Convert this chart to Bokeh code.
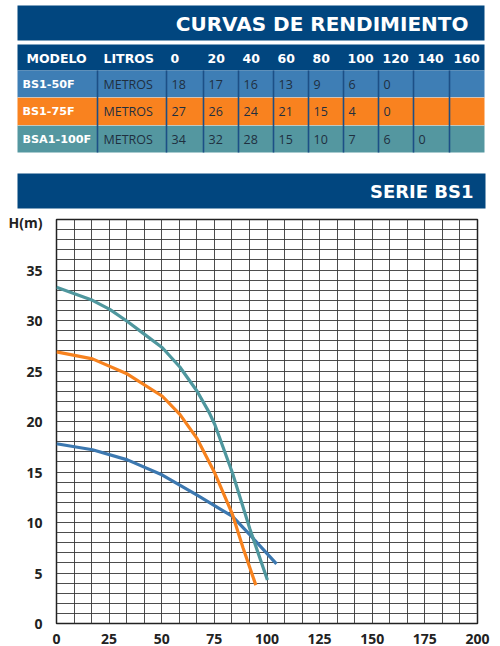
from bokeh.plotting import figure
from bokeh.layouts import column
from bokeh.models import Range1d, FixedTicker
from bokeh.core.properties import value
from bokeh.embed import file_html
from bokeh.resources import INLINE

# ---------------- data ----------------
title_text = "CURVAS DE RENDIMIENTO"
series_text = "SERIE BS1"
header_labels = ["MODELO", "LITROS", "0", "20", "40", "60", "80", "100", "120", "140", "160"]
models = ["BS1-50F", "BS1-75F", "BSA1-100F"]
unit_label = "METROS"
table_bs1_50f = ["18", "17", "16", "13", "9", "6", "0", "", ""]
table_bs1_75f = ["27", "26", "24", "21", "15", "4", "0", "", ""]
table_bsa1_100f = ["34", "32", "28", "15", "10", "7", "6", "0", ""]

# curves: caudal (x) and altura H (m)
bs1_50f_x = [0, 17.1, 33.7, 50.3, 66.8, 83.6, 91.8, 104.5]
bs1_50f_h = [17.8, 17.2, 16.2, 14.7, 12.7, 10.6, 8.8, 5.9]
bs1_75f_x = [0, 17.1, 33.7, 50.3, 58.6, 66.8, 75.2, 83.6, 88.6, 94.7]
bs1_75f_h = [26.9, 26.2, 24.7, 22.5, 20.7, 18.3, 14.9, 10.8, 7.5, 3.8]
bsa1_100f_x = [0, 17.1, 25.3, 33.7, 42.0, 50.3, 58.6, 66.8, 72.5, 75.2, 83.6, 91.8, 100.2]
bsa1_100f_h = [33.3, 32.0, 31.1, 29.9, 28.6, 27.3, 25.4, 23.0, 20.9, 19.7, 14.9, 9.4, 4.3]

x_ticks = [0, 25, 50, 75, 100, 125, 150, 175, 200]
y_ticks = [0, 5, 10, 15, 20, 25, 30, 35, 40]

# ---------------- style ----------------
NAVY = "#01467f"
ROW_COLORS = ["#3e7eb5", "#f9821f", "#5497a0"]
LINE_COLORS = ["#3c78b0", "#f7821e", "#4f979e"]
SEP = "#1d4f86"
TXT = "#1f2f3f"
FONT = "Open Sans"
HFONT = "DejaVu Sans"

W = 500
TOP_H = 212

# ---------------- table figure ----------------
t = figure(width=W, height=TOP_H, x_range=Range1d(0, W), y_range=Range1d(TOP_H, 0),
           output_backend="svg", toolbar_location=None, min_border=0)
t.axis.visible = False
t.grid.visible = False
t.outline_line_color = None
t.background_fill_color = "white"
t.border_fill_color = "white"

col_edges = [17, 97, 166, 203, 238, 273, 308, 343, 378, 413, 449, 484]
row_edges = [70, 97, 125, 152]

# title bars
t.quad(left=[17], right=[484], top=[5], bottom=[40], fill_color=NAVY, line_color=None)
t.quad(left=[17], right=[484], top=[44], bottom=[70], fill_color=NAVY, line_color=None)
t.quad(left=[17], right=[485], top=[173], bottom=[208], fill_color=NAVY, line_color=None)

t.text(x=[468], y=[23], text=[title_text], text_font=value(HFONT), text_font_style="bold",
       text_font_size="20px", text_color="white", text_align="right", text_baseline="middle")
t.text(x=[473], y=[191], text=[series_text], text_font=value(HFONT), text_font_style="bold",
       text_font_size="18px", text_color="white", text_align="right", text_baseline="middle")

# row backgrounds
t.quad(left=[17] * 3, right=[484] * 3, top=row_edges[:-1], bottom=row_edges[1:],
       fill_color=ROW_COLORS, line_color=None)
# thin light row dividers
t.segment(x0=[17, 17], x1=[484, 484], y0=row_edges[1:3], y1=row_edges[1:3],
          line_color="#dfe6ea", line_width=0.8, line_alpha=0.6)
# column separators
seps = col_edges[1:-1]
t.segment(x0=seps, x1=seps, y0=[row_edges[0]] * len(seps), y1=[row_edges[-1]] * len(seps),
          line_color=SEP, line_width=1.6)

# header labels
hx = [26, 103] + [e + 4 for e in col_edges[2:-1]]
t.text(x=hx, y=[57.5] * len(hx), text=header_labels, text_font=value(HFONT),
       text_font_style="bold", text_font_size="12.5px", text_color="white",
       text_baseline="middle")

# rows
row_mid = [(row_edges[i] + row_edges[i + 1]) / 2 for i in range(3)]
t.text(x=[22] * 3, y=row_mid, text=models, text_font=value(HFONT), text_font_style="bold",
       text_font_size="11.2px", text_color="white", text_baseline="middle")
t.text(x=[103] * 3, y=row_mid, text=[unit_label] * 3, text_font=value(FONT),
       text_font_size="12.5px", text_color=TXT, text_baseline="middle")
for vals, ym in zip([table_bs1_50f, table_bs1_75f, table_bsa1_100f], row_mid):
    xs = [e + 5 for e in col_edges[2:-1]]
    t.text(x=xs, y=[ym] * len(xs), text=vals, text_font=value(FONT),
           text_font_size="12.5px", text_color=TXT, text_baseline="middle")

# ---------------- chart figure ----------------
p = figure(width=W, height=646 - TOP_H, x_range=Range1d(0, 200), y_range=Range1d(0, 40),
           output_backend="svg", toolbar_location=None,
           min_border_left=56, min_border_right=23, min_border_top=7, min_border_bottom=23)
p.background_fill_color = "white"
p.border_fill_color = "white"
p.outline_line_color = "#222222"
p.outline_line_width = 1.5

p.xaxis.ticker = FixedTicker(ticks=x_ticks)
p.yaxis.ticker = FixedTicker(ticks=y_ticks)
p.yaxis.major_label_overrides = {40: "H(m)"}
for ax in (p.xaxis, p.yaxis):
    ax.axis_line_color = None
    ax.major_tick_line_color = None
    ax.minor_tick_line_color = None
    ax.major_label_text_font = FONT
    ax.major_label_text_font_size = "14px"
    ax.major_label_text_font_style = "bold"
    ax.major_label_text_color = "#222222"
p.xaxis.major_label_standoff = 4
p.yaxis.major_label_standoff = 8

p.xgrid.ticker = FixedTicker(ticks=[i * 25 / 3 for i in range(25)])
p.ygrid.ticker = FixedTicker(ticks=list(range(41)))
p.grid.grid_line_color = "#3a3a3a"
p.grid.grid_line_width = 1
p.grid.grid_line_alpha = 0.9

for xs, hs, c in [(bs1_50f_x, bs1_50f_h, LINE_COLORS[0]),
                  (bs1_75f_x, bs1_75f_h, LINE_COLORS[1]),
                  (bsa1_100f_x, bsa1_100f_h, LINE_COLORS[2])]:
    p.line(xs, hs, line_color=c, line_width=3.2, line_cap="butt", line_join="round")

layout = column(column(t, spacing=0), column(p, spacing=0), spacing=0)
open("out.html", "w").write(file_html(layout, INLINE))
